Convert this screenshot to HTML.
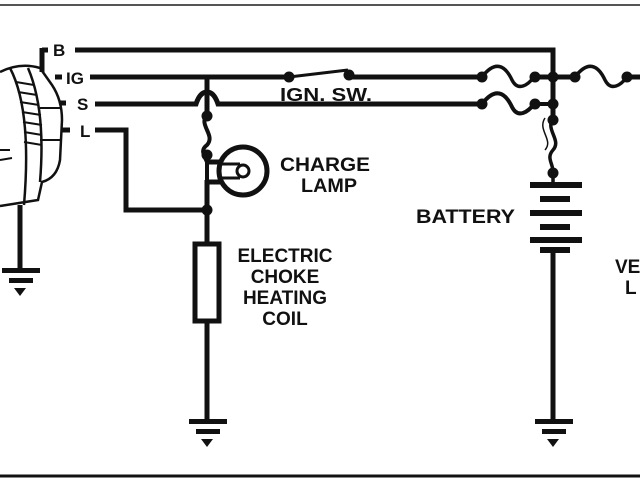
<!DOCTYPE html>
<html><head><meta charset="utf-8"><style>
html,body{margin:0;padding:0;background:#fff;}
svg{display:block}
text{font-family:"Liberation Sans",sans-serif;font-weight:bold;fill:#111;}
</style></head><body>
<svg width="640" height="480" viewBox="0 0 640 480" xmlns="http://www.w3.org/2000/svg">
<rect width="640" height="480" fill="#fff"/>
<line x1="0" y1="5" x2="640" y2="5" stroke="#555" stroke-width="2"/>
<line x1="0" y1="476" x2="640" y2="476" stroke="#111" stroke-width="3"/>
<g stroke="#111" stroke-width="5" fill="none" stroke-linecap="butt">
<!-- alternator -->
<path d="M0 72 Q20 62 40 68 L52 85 Q62 100 62 120 L60 160 Q57 178 42 182 L38 200 L0 206" stroke-width="2.5"/>
<path d="M10 68 Q32 110 24 205" stroke-width="2.5"/>
<path d="M28 68 Q46 110 40 182" stroke-width="2.5"/>
<path d="M16 82 L34 85 M18 92 L37 95 M20 102 L39 105 M22 112 L41 115 M23 122 L42 125 M24 132 L42 135 M24 142 L42 145" stroke-width="2"/>
<path d="M40 108 L60 108 M40 140 L60 140 M0 150 L10 150 M0 160 L12 158" stroke-width="2"/>
<path d="M42 48 L42 72"/>
<path d="M42 50 L48 50 M55 77 L62 77 M60 103 L66 103 M62 130 L70 130"/>
<!-- B -->
<path d="M75 50 L553 50 L553 115"/>
<!-- IG -->
<path d="M90 77 L289 77"/>
<path d="M289 77 L348 70" stroke-width="3"/>
<path d="M350 77 L482 77"/>
<path d="M482 77 C495 60 505 65 512 80 C518 92 528 85 534 77" stroke-width="3.5"/>
<path d="M534 77 L575 77"/>
<path d="M575 77 C588 60 598 65 605 80 C611 92 621 85 627 77" stroke-width="3.5"/>
<path d="M627 77 L640 77"/>
<!-- S -->
<path d="M95 104 L196 104 Q200 92 207 92 Q214 92 218 104 L482 104"/>
<path d="M482 104 C495 87 505 92 512 107 C518 119 528 112 534 104 L553 104" stroke-width="4"/>
<!-- vertical 207 -->
<path d="M207 77 L207 115"/>
<path d="M207 115 C198 125 216 135 207 145 C200 150 204 155 207 162 L207 180" stroke-width="4"/>
<path d="M207 162 L220 162 M207 182 L220 182"/>
<path d="M207 180 L207 243"/>
<!-- lamp -->
<circle cx="243" cy="171" r="24"/>
<path d="M220 164 L240 164 M220 178 L240 178" stroke-width="3"/>
<circle cx="243" cy="171" r="6" stroke-width="3"/>
<!-- L wire -->
<path d="M95 130 L126 130 L126 210 L207 210"/>
<!-- resistor -->
<rect x="195" y="244" width="24" height="77"/>
<path d="M207 321 L207 420"/>
<!-- battery -->
<path d="M553 118 C545 130 562 140 553 150 C546 158 553 163 553 172 L553 183" stroke-width="3.5"/>
<path d="M545 118 C537 130 554 140 545 150" stroke-width="1.5"/>
<path d="M553 250 L553 420"/>
<!-- left ground wire -->
<path d="M20 205 L20 270"/>
</g>
<g fill="#111">
<circle cx="289" cy="77" r="5.5"/><circle cx="349" cy="75" r="5.5"/>
<circle cx="482" cy="77" r="5.5"/><circle cx="535" cy="77" r="5.5"/><circle cx="553" cy="77" r="5.5"/>
<circle cx="575" cy="77" r="5.5"/><circle cx="627" cy="77" r="5.5"/>
<circle cx="482" cy="104" r="5.5"/><circle cx="535" cy="104" r="5.5"/><circle cx="553" cy="104" r="5.5"/>
<circle cx="553" cy="120" r="5.5"/><circle cx="553" cy="173" r="5.5"/>
<circle cx="207" cy="116" r="5.5"/><circle cx="207" cy="155" r="5.5"/><circle cx="207" cy="210" r="5.5"/>
<!-- battery plates -->
<rect x="530" y="182" width="52" height="6"/>
<rect x="540" y="196" width="30" height="6"/>
<rect x="530" y="210" width="52" height="6"/>
<rect x="540" y="224" width="30" height="6"/>
<rect x="530" y="237" width="52" height="6"/>
<rect x="540" y="247" width="30" height="6"/>
<!-- grounds -->
<rect x="2" y="268" width="38" height="5"/><rect x="9" y="278" width="24" height="5"/><path d="M14 288 L26 288 L20 296Z"/>
<rect x="189" y="419" width="38" height="5"/><rect x="196" y="429" width="24" height="5"/><path d="M201 439 L213 439 L207 447Z"/>
<rect x="535" y="419" width="38" height="5"/><rect x="542" y="429" width="24" height="5"/><path d="M547 439 L559 439 L553 447Z"/>
</g>
<text x="53" y="56" font-size="17">B</text>
<text x="66" y="84" font-size="17">IG</text>
<text x="77" y="110" font-size="17">S</text>
<text x="80" y="137" font-size="17">L</text>
<text x="280" y="101" font-size="18" textLength="92" lengthAdjust="spacingAndGlyphs">IGN. SW.</text>
<text x="280" y="171" font-size="19" textLength="90" lengthAdjust="spacingAndGlyphs">CHARGE</text>
<text x="301" y="192" font-size="19" textLength="56" lengthAdjust="spacingAndGlyphs">LAMP</text>
<text x="416" y="223" font-size="19" textLength="99" lengthAdjust="spacingAndGlyphs">BATTERY</text>
<text x="285" y="262" font-size="19" text-anchor="middle">ELECTRIC</text>
<text x="285" y="283" font-size="19" text-anchor="middle">CHOKE</text>
<text x="285" y="304" font-size="19" text-anchor="middle">HEATING</text>
<text x="285" y="325" font-size="19" text-anchor="middle">COIL</text>
<text x="615" y="273" font-size="19">VE</text>
<text x="625" y="294" font-size="19">L</text>
</svg>
</body></html>
